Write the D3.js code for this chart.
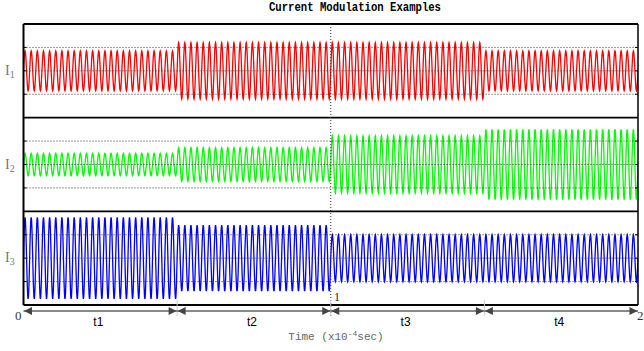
<!DOCTYPE html>
<html>
<head>
<meta charset="utf-8">
<script src="https://cdn.jsdelivr.net/npm/d3@7"></script>
<style>
  body { margin: 0; background: #fff; }
</style>
</head>
<body>
<script>
// chart values
const segments = ['t1', 't2', 't3', 't4'];
const segmentBounds = [0, 0.5, 1, 1.5, 2];
const xTicks = [0, 1, 2];
const gridLevels = [-1, 0, 1];
const cyclesPerUnit = 50;     // carrier cycles per 1e-4 s
const samplesPerCycle = 24;
const seriesNames = ['1', '2', '3'];
const seriesColors = ['#ff0000', '#00ff00', '#0000ff'];
const i1Amplitude = [0.85, 1.2, 1.2, 0.85];
const i2Amplitude = [0.48, 0.72, 1.22, 1.5];
const i3Amplitude = [1.74, 1.41, 1.0, 1.0];
const amplitudes = [i1Amplitude, i2Amplitude, i3Amplitude];

const width = 644, height = 351;
const plot = {left: 23.5, right: 638, top: 24, bottom: 305};
const panelHeight = (plot.bottom - plot.top) / seriesNames.length;

const x = d3.scaleLinear().domain([0, 2]).range([plot.left, plot.right]);
const band = d3.scaleBand().domain(seriesNames).range([plot.top, plot.bottom]);

const svg = d3.select('body').append('svg')
  .attr('width', width)
  .attr('height', height)
  .style('font-family', 'Liberation Serif, serif');

svg.append('defs').append('clipPath').attr('id', 'plot-clip')
  .append('rect')
  .attr('x', plot.left).attr('y', plot.top)
  .attr('width', plot.right - plot.left).attr('height', plot.bottom - plot.top);

// title
svg.append('text')
  .attr('x', 269)
  .attr('y', 11)
  .attr('textLength', 172)
  .attr('lengthAdjust', 'spacingAndGlyphs')
  .style('font-family', 'Liberation Mono, monospace')
  .style('font-weight', 'bold')
  .style('font-size', '12px')
  .text('Current Modulation Examples');

const segmentOf = t => Math.min(segments.length - 1, Math.floor(t / (segmentBounds[1] - segmentBounds[0])));

seriesNames.forEach((name, i) => {
  const top = band(name);
  const y = d3.scaleLinear().domain([-2, 2]).range([top + panelHeight, top]);
  const $panel = svg.append('g').attr('class', 'panel');

  const n = cyclesPerUnit * samplesPerCycle * 2;
  const wave = d3.range(n + 1).map(k => {
    const t = k * 2 / n;
    return [t, amplitudes[i][segmentOf(t)] * Math.sin(2 * Math.PI * cyclesPerUnit * t)];
  });

  $panel.append('path')
    .datum(wave)
    .attr('clip-path', 'url(#plot-clip)')
    .attr('fill', 'none')
    .attr('stroke', seriesColors[i])
    .attr('stroke-width', 1.3)
    .attr('d', d3.line().x(d => x(d[0])).y(d => y(d[1])));

  $panel.selectAll('.grid').data(gridLevels).enter()
    .append('line')
    .attr('class', 'grid')
    .attr('x1', plot.left).attr('x2', plot.right)
    .attr('y1', d => y(d)).attr('y2', d => y(d))
    .attr('stroke', '#333')
    .attr('stroke-width', 1)
    .attr('stroke-dasharray', '1,2');

  // small ticks at both sides
  $panel.selectAll('.tick-l').data(gridLevels).enter()
    .append('line')
    .attr('x1', plot.left).attr('x2', plot.left + 3)
    .attr('y1', d => y(d)).attr('y2', d => y(d))
    .attr('stroke', '#000');
  $panel.selectAll('.tick-r').data(gridLevels).enter()
    .append('line')
    .attr('x1', plot.right - 3).attr('x2', plot.right)
    .attr('y1', d => y(d)).attr('y2', d => y(d))
    .attr('stroke', '#000');

  const label = svg.append('text')
    .attr('x', 5)
    .attr('y', y(0) + 4)
    .attr('fill', '#777')
    .style('font-size', '14px')
    .text('I');
  label.append('tspan')
    .attr('dy', 3)
    .style('font-size', '10px')
    .text(name);
});

// panel borders
svg.selectAll('.hline').data(seriesNames.map(d => band(d)).concat([plot.bottom])).enter()
  .append('line')
  .attr('x1', plot.left).attr('x2', plot.right)
  .attr('y1', d => d).attr('y2', d => d)
  .attr('stroke', '#000')
  .attr('stroke-width', 1.8);

svg.append('line')
  .attr('x1', plot.left).attr('x2', plot.left)
  .attr('y1', plot.top).attr('y2', plot.bottom)
  .attr('stroke', '#000').attr('stroke-width', 2);
svg.append('line')
  .attr('x1', plot.right).attr('x2', plot.right)
  .attr('y1', plot.top).attr('y2', plot.bottom)
  .attr('stroke', '#000').attr('stroke-width', 1.5);

// dotted marker at t = 1
svg.append('line')
  .attr('x1', x(1)).attr('x2', x(1))
  .attr('y1', plot.top).attr('y2', 318)
  .attr('stroke', '#333')
  .attr('stroke-width', 1)
  .attr('stroke-dasharray', '1,2');

// segment extension lines and dimension arrows
const dimY = 311;
svg.selectAll('.ext').data(segmentBounds.slice(1, -1)).enter()
  .append('line')
  .attr('x1', d => x(d)).attr('x2', d => x(d))
  .attr('y1', 300).attr('y2', 316)
  .attr('stroke', '#ccc');

svg.append('line')
  .attr('x1', plot.left).attr('x2', plot.right)
  .attr('y1', dimY).attr('y2', dimY)
  .attr('stroke', '#888')
  .attr('stroke-width', 2);

const arrowLen = 8, arrowHalf = 4;
segments.forEach((s, i) => {
  const x0 = x(segmentBounds[i]) + 0.5, x1 = x(segmentBounds[i + 1]) - 0.5;
  svg.append('path')
    .attr('d', `M${x0},${dimY}L${x0 + arrowLen},${dimY - arrowHalf}L${x0 + arrowLen},${dimY + arrowHalf}Z`)
    .attr('fill', '#444');
  svg.append('path')
    .attr('d', `M${x1},${dimY}L${x1 - arrowLen},${dimY - arrowHalf}L${x1 - arrowLen},${dimY + arrowHalf}Z`)
    .attr('fill', '#444');
  svg.append('text')
    .attr('x', (x0 + x1) / 2 - 2)
    .attr('y', 326)
    .attr('text-anchor', 'middle')
    .style('font-family', 'Liberation Sans, sans-serif')
    .style('font-size', '12px')
    .text(s);
});

// x tick labels
svg.selectAll('.xtick').data(xTicks).enter()
  .append('text')
  .attr('x', d => d === 0 ? x(d) - 2 : d === 1 ? x(d) + 3 : width - 0.5)
  .attr('y', d => d === 1 ? 301 : 320)
  .attr('text-anchor', d => d === 1 ? 'start' : 'end')
  .attr('fill', '#333')
  .style('font-size', '13px')
  .text(d => d);

// x axis title
const xt = svg.append('text')
  .attr('x', 336)
  .attr('y', 340)
  .attr('text-anchor', 'middle')
  .attr('fill', '#666')
  .style('font-family', 'Liberation Mono, monospace')
  .style('font-size', '11px')
  .text('Time (x10');
xt.append('tspan').attr('dy', -4).style('font-size', '8px').text('-4');
xt.append('tspan').attr('dy', 4).text('sec)');
</script>
</body>
</html>
